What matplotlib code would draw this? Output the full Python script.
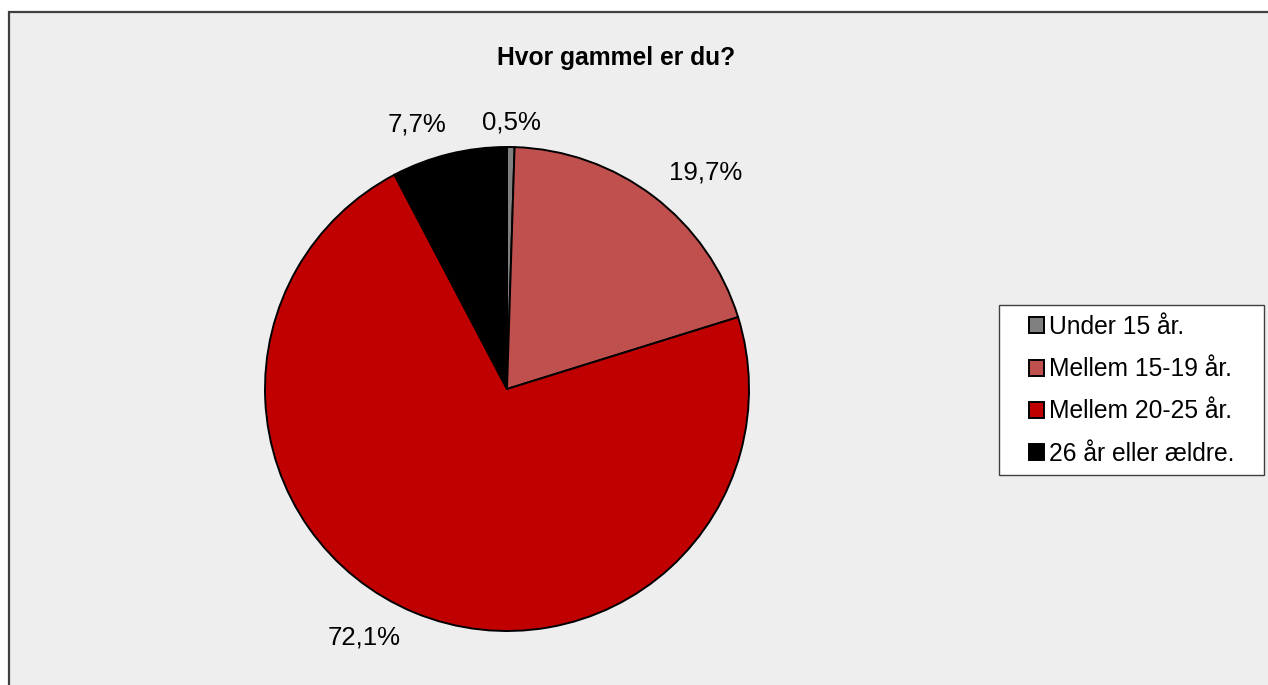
import matplotlib
matplotlib.use("Agg")
import matplotlib.pyplot as plt
from matplotlib.patches import Rectangle

plt.rcParams['font.family'] = ['Liberation Sans', 'DejaVu Sans']

# survey answers
labels = ["Under 15 år.", "Mellem 15-19 år.", "Mellem 20-25 år.", "26 år eller ældre."]
values = [0.5, 19.7, 72.1, 7.7]
colors = ["#808080", "#C0504D", "#C00000", "#000000"]
# where Excel put each percentage label (pie radius = 1)
label_pos = [(0.017, 1.103), (0.822, 0.893), (-0.591, -1.025), (-0.372, 1.091)]

W, H = 1268, 685
fig = plt.figure(figsize=(W / 100, H / 100), dpi=100, facecolor="white")

# chart area with grey fill and dark border (cut off right/bottom)
fig.patches.append(Rectangle((9 / W, -0.01), 1.05, 1 - 12 / H + 0.01,
                             transform=fig.transFigure, facecolor="#EEEEEE",
                             edgecolor="#404040", linewidth=1.6, zorder=-5))
# legend box
fig.patches.append(Rectangle((999 / W, 1 - 475 / H), 265 / W, 170 / H,
                             transform=fig.transFigure, facecolor="white",
                             edgecolor="#404040", linewidth=1.0, zorder=-4))

cx, cy, r = 507, 389, 242
ax = fig.add_axes([(cx - r) / W, (H - cy - r) / H, 2 * r / W, 2 * r / H])
ax.set_facecolor("none")
wedges, _ = ax.pie(values, colors=colors, startangle=90, counterclock=False,
                   radius=1, wedgeprops=dict(edgecolor="black", linewidth=1.4))
ax.set_xlim(-1, 1)
ax.set_ylim(-1, 1)
ax.set_aspect("equal")
ax.axis("off")

for v, (x, y) in zip(values, label_pos):
    ax.text(x, y, f"{v:.1f}%".replace(".", ","), ha="center", va="center",
            fontsize=18.6, clip_on=False)

fig.text(616 / W, 1 - 58 / H, "Hvor gammel er du?", ha="center", va="center",
         fontsize=17.7, fontweight="bold")

leg = fig.legend(wedges, labels, loc="upper left",
                 bbox_to_anchor=(1029 / W, 1 - 315 / H),
                 fontsize=17.7, frameon=False, borderaxespad=0, borderpad=0,
                 handlelength=0.62, handleheight=0.62, handletextpad=0.2,
                 labelspacing=0.74)

fig.savefig("out.png", dpi=100, facecolor="white")
